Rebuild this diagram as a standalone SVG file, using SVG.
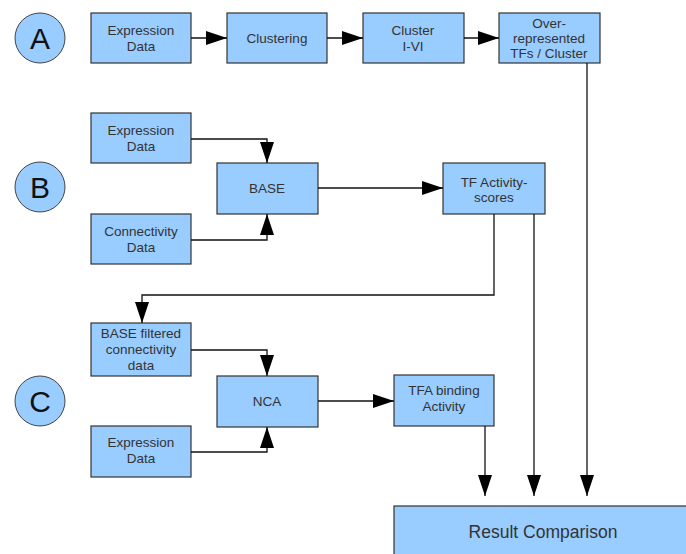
<svg xmlns="http://www.w3.org/2000/svg" width="686" height="554" viewBox="0 0 686 554">
<defs>
<style>
.box{fill:#99ccff;stroke:#333;stroke-width:1.2}
.circ{fill:#99ccff;stroke:#444;stroke-width:1}
.t{font-family:"Liberation Sans",Arial,sans-serif;font-size:13.5px;fill:#333;text-anchor:middle}
.big{font-family:"Liberation Sans",Arial,sans-serif;font-size:30px;fill:#111;text-anchor:middle}
.res{font-family:"Liberation Sans",Arial,sans-serif;font-size:17.5px;fill:#333;text-anchor:middle}
.c{fill:none;stroke:#111;stroke-width:1.3}
</style>
<marker id="ah" markerUnits="userSpaceOnUse" markerWidth="22" markerHeight="16" refX="21" refY="8" orient="auto">
<path d="M0,1 L21,8 L0,15 z" fill="#000"/>
</marker>
</defs>
<rect width="686" height="554" fill="#fff"/>
<g id="labelA"><circle class="circ" cx="40" cy="38" r="25"/><text class="big" x="40" y="49">A</text></g>
<g id="labelB"><circle class="circ" cx="40" cy="187" r="25"/><text class="big" x="40" y="198">B</text></g>
<g id="labelC"><circle class="circ" cx="40" cy="401" r="25"/><text class="big" x="40" y="412">C</text></g>

<g id="a_expr"><rect class="box" x="91" y="13" width="100" height="50"/><text class="t" x="141" y="35">Expression</text><text class="t" x="141" y="51">Data</text></g>
<g id="a_clust"><rect class="box" x="227" y="13" width="100" height="50"/><text class="t" x="277" y="43">Clustering</text></g>
<g id="a_cl16"><rect class="box" x="363" y="13" width="101" height="50"/><text class="t" x="413" y="35">Cluster</text><text class="t" x="413" y="51">I-VI</text></g>
<g id="a_over"><rect class="box" x="499" y="13" width="101" height="50"/><text class="t" x="549" y="28">Over-</text><text class="t" x="549" y="43">represented</text><text class="t" x="549" y="58">TFs / Cluster</text></g>

<g id="b_expr"><rect class="box" x="91" y="113" width="100" height="50"/><text class="t" x="141" y="135">Expression</text><text class="t" x="141" y="151">Data</text></g>
<g id="b_conn"><rect class="box" x="91" y="214" width="100" height="50"/><text class="t" x="141" y="236">Connectivity</text><text class="t" x="141" y="252">Data</text></g>
<g id="b_base"><rect class="box" x="217" y="163" width="101" height="51"/><text class="t" x="267" y="193">BASE</text></g>
<g id="b_tf"><rect class="box" x="443" y="163" width="102" height="51"/><text class="t" x="494" y="187">TF Activity-</text><text class="t" x="494" y="202">scores</text></g>

<g id="c_filt"><rect class="box" x="91" y="323" width="100" height="53"/><text class="t" x="141" y="338">BASE filtered</text><text class="t" x="141" y="354">connectivity</text><text class="t" x="141" y="370">data</text></g>
<g id="c_expr"><rect class="box" x="91" y="426" width="100" height="51"/><text class="t" x="141" y="447">Expression</text><text class="t" x="141" y="463">Data</text></g>
<g id="c_nca"><rect class="box" x="217" y="376" width="101" height="51"/><text class="t" x="267" y="406">NCA</text></g>
<g id="c_tfa"><rect class="box" x="394" y="375" width="100" height="51"/><text class="t" x="444" y="395">TFA binding</text><text class="t" x="444" y="411">Activity</text></g>

<g id="result"><rect class="box" x="394" y="506" width="300" height="60"/><text class="res" x="543" y="538">Result Comparison</text></g>

<g id="connectors">
<path class="c" d="M191,38 H227" marker-end="url(#ah)"/>
<path class="c" d="M327,38 H363" marker-end="url(#ah)"/>
<path class="c" d="M464,38 H499" marker-end="url(#ah)"/>
<path class="c" d="M587,63 V496" marker-end="url(#ah)"/>
<path class="c" d="M191,139 H267 V163" marker-end="url(#ah)"/>
<path class="c" d="M191,240 H267 V214" marker-end="url(#ah)"/>
<path class="c" d="M318,188 H443" marker-end="url(#ah)"/>
<path class="c" d="M494,214 V295 H142 V323" marker-end="url(#ah)"/>
<path class="c" d="M534,214 V496" marker-end="url(#ah)"/>
<path class="c" d="M191,350 H267 V376" marker-end="url(#ah)"/>
<path class="c" d="M191,452 H267 V427" marker-end="url(#ah)"/>
<path class="c" d="M318,401 H394" marker-end="url(#ah)"/>
<path class="c" d="M485,426 V496" marker-end="url(#ah)"/>
</g>
</svg>
